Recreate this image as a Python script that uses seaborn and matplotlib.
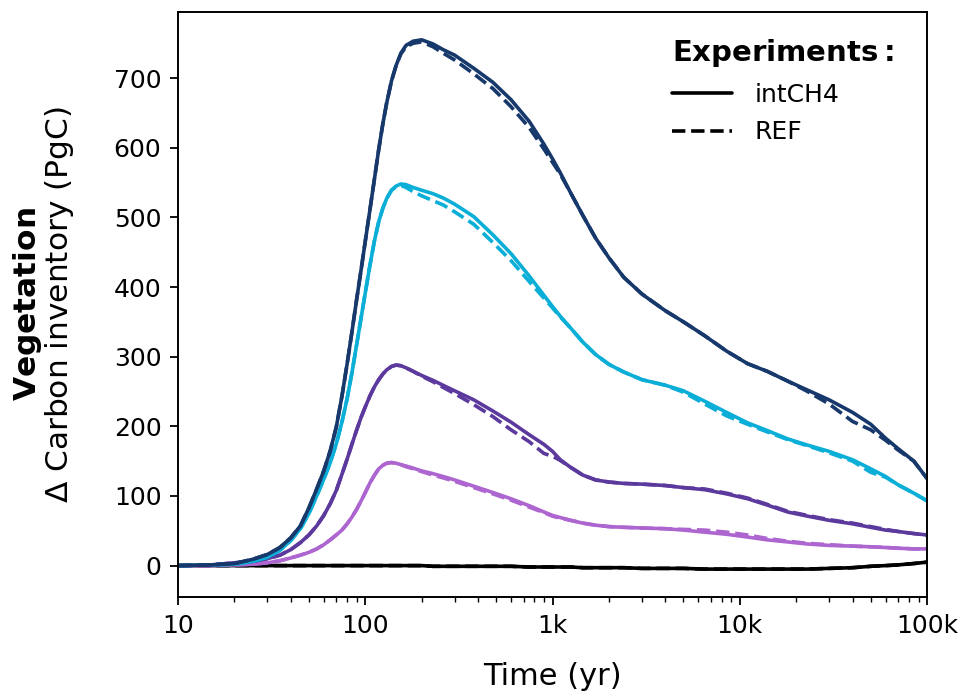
import numpy as np
import pandas as pd
import matplotlib
matplotlib.use('Agg')
import matplotlib.pyplot as plt
import seaborn as sns
from matplotlib.lines import Line2D
from matplotlib.ticker import FixedLocator, FixedFormatter, NullFormatter, LogLocator

# time axis (yr), shared by every series
time_yr = [10, 15, 20, 25, 30, 35, 40, 45, 50, 55,
           60, 65, 70, 75, 80, 85, 90, 95, 100, 106,
           112, 118, 124, 130, 138, 146, 155, 165, 180, 200,
           230, 260, 300, 380, 480, 600, 750, 900, 1000, 1100,
           1250, 1450, 1700, 2000, 2400, 3000, 4000, 5000, 6500, 8500,
           11000, 14000, 18000, 23000, 30000, 40000, 50000, 60000, 70000, 85000,
           100000]

# vegetation carbon anomaly (PgC), intCH4 runs
navy_int = [0, 1, 3, 9, 16, 26, 40, 57, 83, 110,
            136, 165, 199, 243, 290, 337, 383, 425, 466, 512,
            556, 598, 634, 664, 696, 718, 736, 747, 753, 755,
            749, 741, 733, 714, 694, 669, 638, 605, 584, 564,
            535, 503, 470, 442, 414, 390, 366, 350, 330, 308,
            290, 279, 265, 252, 238, 220, 203, 183, 168, 150,
            125]
cyan_int = [0, 1, 2, 6, 12, 22, 36, 53, 75, 100,
            124, 148, 175, 206, 240, 278, 318, 356, 392, 432,
            467, 494, 513, 527, 539, 545, 548, 547, 543, 539,
            534, 528, 519, 501, 475, 448, 416, 388, 372, 358,
            341, 321, 303, 289, 278, 267, 259, 251, 236, 220,
            205, 194, 182, 173, 164, 152, 139, 128, 116, 104,
            93]
violet_int = [0, 1, 4, 6, 10, 15, 23, 33, 44, 57,
              72, 89, 108, 131, 153, 175, 195, 213, 228, 244,
              257, 267, 275, 281, 286, 288, 287, 284, 279, 273,
              266, 259, 251, 238, 222, 206, 188, 174, 164, 152,
              141, 130, 123, 120, 118, 117, 115, 112, 109, 103,
              96, 87, 77, 71, 65, 60, 55, 51, 49, 46,
              44]
lilac_int = [0, 0, 1, 2, 4, 7, 11, 15, 19, 24,
             30, 37, 44, 51, 60, 70, 81, 93, 105, 119,
             130, 139, 144, 147, 148, 147, 145, 143, 140, 136,
             132, 128, 123, 114, 105, 96, 86, 77, 72, 69,
             65, 61, 58, 56, 55, 54, 53, 51, 48, 45,
             41, 37, 34, 31, 29, 28, 27, 26, 25, 24,
             24]
black_int = [0, 0, 0, 0, 0, 0, 0, 0, 0, 0,
             0, 0, 0, 0, 0, 0, 0, 0, 0, 0,
             0, 0, 0, 0, 0, 0, 0, 0, 0, 0,
             -1, -1, -1, -1, -1, -1, -2, -2, -2, -2,
             -2, -3, -3, -3, -3, -4, -4, -4, -5, -5,
             -5, -5, -5, -5, -4, -3, -1, 0, 1, 3,
             5]

# REF runs
navy_ref = [0, 1, 3, 9, 16, 26, 40, 57, 83, 110,
            136, 165, 199, 243, 290, 337, 383, 425, 466, 512,
            556, 598, 634, 664, 696, 718, 735, 745, 750, 752,
            745, 736, 726, 706, 685, 659, 629, 598, 579, 562,
            535, 503, 470, 442, 414, 390, 366, 350, 330, 308,
            290, 279, 265, 250, 232, 207, 195, 180, 166, 150,
            125]
cyan_ref = [0, 1, 2, 6, 12, 22, 36, 53, 75, 100,
            124, 148, 175, 206, 240, 278, 318, 356, 392, 432,
            467, 494, 513, 527, 539, 544, 546, 543, 537, 531,
            524, 518, 508, 490, 464, 438, 408, 384, 370, 357,
            341, 321, 303, 289, 278, 267, 259, 249, 232, 215,
            203, 192, 181, 172, 162, 150, 134, 127, 116, 104,
            93]
violet_ref = [0, 1, 4, 6, 10, 15, 23, 33, 44, 57,
              72, 89, 108, 131, 153, 175, 195, 213, 228, 244,
              257, 267, 275, 281, 286, 288, 287, 284, 279, 272,
              264, 256, 247, 231, 214, 195, 178, 161, 157, 151,
              141, 130, 123, 120, 118, 117, 115, 112, 110, 104,
              97, 88, 78, 72, 66, 61, 56, 52, 49, 46,
              44]
lilac_ref = [0, 0, 1, 2, 4, 7, 11, 15, 19, 24,
             30, 37, 44, 51, 60, 70, 81, 93, 105, 119,
             130, 139, 144, 147, 148, 147, 145, 142, 139, 135,
             130, 126, 121, 112, 103, 94, 84, 76, 71, 68,
             65, 61, 58, 56, 55, 54, 53, 52, 51, 48,
             44, 39, 35, 32, 30, 28, 27, 26, 25, 24,
             24]
black_ref = black_int

scenarios = ['black', 'lilac', 'violet', 'cyan', 'navy']
colors = {'black': '#000000', 'lilac': '#ad66d0', 'violet': '#5c3a9d',
          'cyan': '#0aaed6', 'navy': '#17386b'}
experiments = ['intCH4', 'REF']

series = {
    ('black', 'intCH4'): black_int, ('black', 'REF'): black_ref,
    ('lilac', 'intCH4'): lilac_int, ('lilac', 'REF'): lilac_ref,
    ('violet', 'intCH4'): violet_int, ('violet', 'REF'): violet_ref,
    ('cyan', 'intCH4'): cyan_int, ('cyan', 'REF'): cyan_ref,
    ('navy', 'intCH4'): navy_int, ('navy', 'REF'): navy_ref,
}

frames = []
for (scen, exp), vals in series.items():
    frames.append(pd.DataFrame({'time': time_yr, 'carbon': vals,
                                'scenario': scen, 'experiment': exp}))
df = pd.concat(frames, ignore_index=True)

sns.set_theme(style='ticks')
plt.rcParams['font.family'] = ['DejaVu Sans']
plt.rcParams['mathtext.fontset'] = 'dejavusans'
plt.rcParams['text.color'] = 'black'
plt.rcParams['axes.labelcolor'] = 'black'

fig = plt.figure(figsize=(9.65, 6.99), dpi=100)
ax = fig.add_axes([0.1845, 0.146, 0.7762, 0.8369])

sns.lineplot(data=df, x='time', y='carbon', hue='scenario', style='experiment',
             hue_order=scenarios, style_order=experiments, palette=colors,
             dashes={'intCH4': '', 'REF': (3.7, 1.6)}, linewidth=2.6,
             estimator=None, errorbar=None, legend=False, ax=ax)

ax.set_xscale('log')
ax.set_xlim(10, 1e5)
ax.set_ylim(-45, 795)

xt = [10, 100, 1000, 10000, 100000]
ax.xaxis.set_major_locator(FixedLocator(xt))
ax.xaxis.set_major_formatter(FixedFormatter(['10', '100', '1k', '10k', '100k']))
ax.xaxis.set_minor_locator(LogLocator(base=10, subs=np.arange(2, 10)))
ax.xaxis.set_minor_formatter(NullFormatter())
ax.set_yticks([0, 100, 200, 300, 400, 500, 600, 700])

ax.tick_params(which='major', length=6, width=1.3, labelsize=18, color='black',
               labelcolor='black', pad=6)
ax.tick_params(which='minor', axis='x', length=3.5, width=1.0, color='black')
for sp in ax.spines.values():
    sp.set_linewidth(1.4)
    sp.set_color('black')

ax.set_xlabel('Time (yr)', fontsize=22)
ax.xaxis.set_label_coords(0.5, -0.112)
ax.xaxis.label.set_va('top')
ax.set_ylabel('$\\bf{Vegetation}$\n$\\Delta$ Carbon inventory (PgC)',
              fontsize=22.5, linespacing=0.95)
ax.yaxis.set_label_coords(-0.136, 0.5)

handles = [Line2D([], [], color='black', lw=2.6, linestyle='-'),
           Line2D([], [], color='black', lw=2.6, linestyle=(0, (3.7, 1.6)))]
leg = ax.legend(handles, experiments, title='$\\bf{Experiments:}$',
                loc='upper right', bbox_to_anchor=(0.989, 1.0),
                frameon=False, fontsize=18, title_fontsize=21,
                handlelength=2.4, handletextpad=0.9, labelspacing=0.55,
                borderaxespad=0.6)
leg._legend_box.align = 'left'

fig.savefig('out.png', dpi=100)
